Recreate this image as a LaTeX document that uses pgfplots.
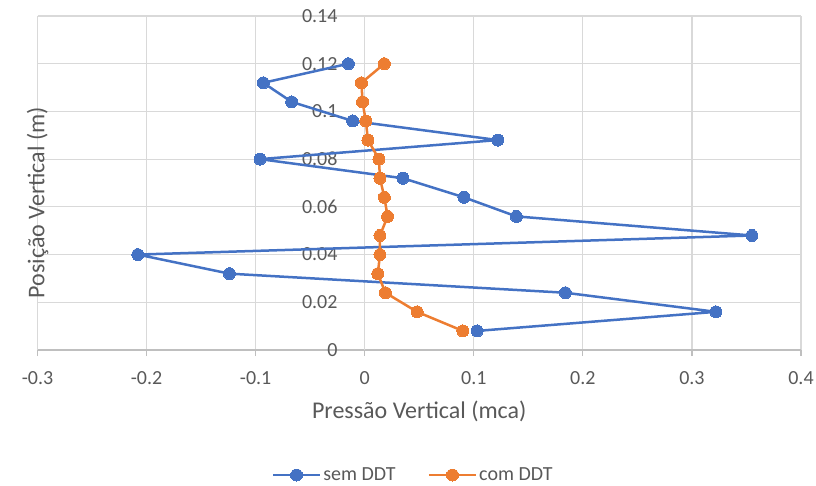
\documentclass[border=0pt]{standalone}
\usepackage{pgfplots}
\pgfplotsset{compat=1.18}
\usepackage{fontspec}
\setmainfont{Carlito}
\definecolor{xblue}{HTML}{4472C4}
\definecolor{xorange}{HTML}{ED7D31}
\definecolor{gridc}{HTML}{D9D9D9}
\definecolor{axc}{HTML}{BFBFBF}
\definecolor{txt}{HTML}{595959}
\begin{document}
\begin{tikzpicture}
\useasboundingbox (-37.5bp,-136bp) rectangle (778.5bp,350bp);
\begin{axis}[
  scale only axis, width=763.5bp, height=334bp,
  xmin=-0.3, xmax=0.4, ymin=0, ymax=0.14,
  axis x line*=bottom, axis y line*=middle,
  hide obscured x ticks=false, hide obscured y ticks=false,
  x axis line style={draw=axc, line width=1.2bp},
  y axis line style={draw=gridc, line width=1.2bp},
  xtick={-0.3,-0.2,-0.1,0,0.1,0.2,0.3,0.4},
  xticklabels={-0.3,-0.2,-0.1,0,0.1,0.2,0.3,0.4},
  ytick={0,0.02,0.04,0.06,0.08,0.1,0.12,0.14},
  yticklabels={0,0.02,0.04,0.06,0.08,0.1,0.12,0.14},
  grid=major,
  major grid style={draw=gridc, line width=1.2bp},
  tick align=outside,
  major tick length=6bp,
  xtick style={draw=axc, line width=1.2bp},
  ytick style={draw=none},
  tick label style={font=\fontsize{20bp}{24bp}\selectfont, text=txt},
  xticklabel style={anchor=north, inner sep=0pt, yshift=-15bp},
  yticklabel style={anchor=east, inner sep=0pt, xshift=-21bp},
  xlabel={Pressão Vertical (mca)},
  ylabel={Posição Vertical (m)},
  every axis x label/.style={at={(axis description cs:0.5,0)}, anchor=center, yshift=-61bp, font=\fontsize{24bp}{28bp}\selectfont, text=txt},
  every axis y label/.style={at={(axis description cs:0,0.5)}, anchor=center, rotate=90, xshift=-19.5bp, font=\fontsize{24bp}{28bp}\selectfont, text=txt},
  legend columns=2,
  legend style={at={(axis description cs:0.5,0)}, anchor=center, yshift=-125bp, xshift=-6bp, draw=none, fill=none, font=\fontsize{20bp}{24bp}\selectfont, text=txt, /tikz/every even column/.append style={column sep=30bp}},
  legend image code/.code={\draw[mark repeat=2,mark phase=2] plot coordinates {(0bp,0bp)(23.5bp,0bp)(47bp,0bp)};},
  clip=false,
]
\addplot[color=xblue, line width=2.5bp, line join=round, mark=*, mark size=6bp, mark options={solid, fill=xblue, draw=xblue, line width=0pt}] coordinates {
(-0.015,0.120)
(-0.093,0.112)
(-0.067,0.104)
(-0.011,0.096)
(0.122,0.088)
(-0.096,0.080)
(0.035,0.072)
(0.091,0.064)
(0.139,0.056)
(0.355,0.048)
(-0.208,0.040)
(-0.124,0.032)
(0.184,0.024)
(0.322,0.016)
(0.103,0.008)
};
\addlegendentry{sem DDT}
\addplot[color=xorange, line width=2.5bp, line join=round, mark=*, mark size=6bp, mark options={solid, fill=xorange, draw=xorange, line width=0pt}] coordinates {
(0.018,0.120)
(-0.003,0.112)
(-0.002,0.104)
(0.001,0.096)
(0.003,0.088)
(0.013,0.080)
(0.014,0.072)
(0.018,0.064)
(0.021,0.056)
(0.014,0.048)
(0.014,0.040)
(0.012,0.032)
(0.019,0.024)
(0.048,0.016)
(0.090,0.008)
};
\addlegendentry{com DDT}
\end{axis}
\end{tikzpicture}
\end{document}
